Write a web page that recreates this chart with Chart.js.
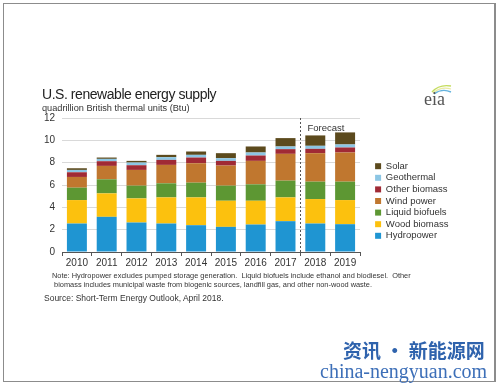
<!DOCTYPE html>
<html>
<head>
<meta charset="utf-8">
<script src="https://cdn.jsdelivr.net/npm/chart.js@4.4.1/dist/chart.umd.min.js"></script>
<style>
  body { margin: 0; background: #fff; }
  #wrap { position: relative; width: 500px; height: 388px; font-family: "Liberation Sans", Arial, sans-serif; color: #333; overflow: hidden; }
  #frame { position: absolute; left: 3px; top: 3px; width: 490px; height: 377px; border: 1px solid #8c8c8c; border-right-width: 2px; }
  canvas { position: absolute; left: 0; top: 0; }
  .txt { position: absolute; white-space: pre; }
  #title { left: 42px; top: 87px; font-size: 14px; line-height: 14px; letter-spacing: -0.45px; color: #222; }
  #subtitle { left: 42px; top: 103px; font-size: 9.2px; line-height: 10px; color: #333; }
  #note { left: 52px; top: 271px; font-size: 7.4px; line-height: 9px; color: #333; }
  #source { left: 44px; top: 293px; font-size: 8.5px; line-height: 10px; color: #333; }
  #wm1 { left: 343px; top: 340px; font-family: "Noto Sans CJK SC", sans-serif; font-weight: bold; font-size: 19px; line-height: 19px; color: #2f63ad; }
  #wm2 { left: 320px; top: 361px; font-family: "Liberation Serif", serif; font-size: 20px; line-height: 20px; color: #3d6fb8; }
  #logo { position: absolute; left: 420px; top: 78px; }
</style>
</head>
<body>
<div id="wrap">
  <div id="frame"></div>
  <canvas id="supplyChart" width="500" height="388"></canvas>
  <div class="txt" id="title">U.S. renewable energy supply</div>
  <div class="txt" id="subtitle">quadrillion British thermal units (Btu)</div>
  <svg id="logo" width="40" height="32" viewBox="0 0 40 32">
    <path d="M12 14 Q19 6 31 8" stroke="#b5d334" stroke-width="1.4" fill="none" opacity="0.8"/>
    <path d="M13 15 Q21 8 31 11" stroke="#e3e58a" stroke-width="1.2" fill="none" opacity="0.8"/>
    <path d="M14 16 Q22 10 31 14" stroke="#3ea0d6" stroke-width="1.4" fill="none" opacity="0.8"/>
    <text x="4" y="27" font-family="Liberation Serif, serif" font-size="18" fill="#555">eia</text>
  </svg>
  <div class="txt" id="note">Note: Hydropower excludes pumped storage generation.  Liquid biofuels include ethanol and biodiesel.  Other
 biomass includes municipal waste from biogenic sources, landfill gas, and other non-wood waste.</div>
  <div class="txt" id="source">Source: Short-Term Energy Outlook, April 2018.</div>
  <div class="txt" id="wm1">资讯 · 新能源网</div>
  <div class="txt" id="wm2">china-nengyuan.com</div>
</div>
<script>
// quadrillion Btu (2018-2019 are forecast)
const years = ['2010', '2011', '2012', '2013', '2014', '2015', '2016', '2017', '2018', '2019'];
const hydropower = [2.55, 3.15, 2.64, 2.55, 2.40, 2.25, 2.46, 2.76, 2.55, 2.49];
const woodBiomass = [2.10, 2.10, 2.16, 2.34, 2.49, 2.34, 2.13, 2.13, 2.19, 2.16];
const liquidBiofuels = [1.11, 1.26, 1.14, 1.26, 1.32, 1.35, 1.47, 1.50, 1.56, 1.65];
const windPower = [0.96, 1.20, 1.41, 1.65, 1.74, 1.80, 2.10, 2.40, 2.55, 2.61];
const otherBiomass = [0.42, 0.42, 0.42, 0.45, 0.51, 0.42, 0.48, 0.42, 0.39, 0.45];
const geothermal = [0.21, 0.21, 0.24, 0.24, 0.24, 0.24, 0.27, 0.24, 0.27, 0.27];
const solar = [0.15, 0.12, 0.15, 0.21, 0.30, 0.45, 0.54, 0.75, 0.93, 1.08];
const yTicks = [0, 2, 4, 6, 8, 10, 12];
const forecastStart = 8; // index of 2018

const FONT = '"Liberation Sans", Arial, sans-serif';

// dashed divider + "Forecast" label
const forecastLine = {
  id: 'forecastLine',
  afterDatasetsDraw(chart) {
    const { ctx, chartArea, scales } = chart;
    const x = scales.x;
    const xPos = Math.round((x.getPixelForValue(forecastStart - 1) + x.getPixelForValue(forecastStart)) / 2) + 0.5;
    ctx.save();
    ctx.strokeStyle = '#555';
    ctx.lineWidth = 1;
    ctx.setLineDash([2, 2]);
    ctx.beginPath();
    ctx.moveTo(xPos, chartArea.top);
    ctx.lineTo(xPos, chartArea.bottom);
    ctx.stroke();
    ctx.setLineDash([]);
    ctx.fillStyle = '#333';
    ctx.font = '9.5px ' + FONT;
    ctx.textBaseline = 'alphabetic';
    ctx.fillText('Forecast', xPos + 7, chartArea.top + 13);
    ctx.restore();
  }
};

// keep the legend block to the right of the plot with a small gap
const legendPlacement = {
  id: 'legendPlacement',
  beforeLayout(chart) {
    const legend = chart.legend;
    if (legend && !legend._fixedWidth) {
      const fit = legend.fit;
      legend.fit = function () { fit.call(this); this.width = 140; };
      legend._fixedWidth = true;
    }
  },
  afterLayout(chart) {
    chart.legend.left += 13;
  }
};

new Chart(document.getElementById('supplyChart'), {
  type: 'bar',
  data: {
    labels: years,
    datasets: [
      { label: 'Hydropower', data: hydropower, backgroundColor: '#1f95d2' },
      { label: 'Wood biomass', data: woodBiomass, backgroundColor: '#fcc10e' },
      { label: 'Liquid biofuels', data: liquidBiofuels, backgroundColor: '#5d9733' },
      { label: 'Wind power', data: windPower, backgroundColor: '#c0772f' },
      { label: 'Other biomass', data: otherBiomass, backgroundColor: '#a02a35' },
      { label: 'Geothermal', data: geothermal, backgroundColor: '#8cc6e4' },
      { label: 'Solar', data: solar, backgroundColor: '#5c4a1d' }
    ]
  },
  options: {
    responsive: false,
    devicePixelRatio: 1,
    animation: false,
    datasets: { bar: { categoryPercentage: 1, barPercentage: 0.67, borderWidth: 0 } },
    layout: { padding: { top: 118, left: 42, right: 0, bottom: 116 } },
    scales: {
      x: {
        stacked: true,
        grid: { drawOnChartArea: false, drawTicks: true, tickLength: 4, color: '#555', offset: true },
        border: { color: '#555' },
        ticks: { color: '#333', font: { family: FONT, size: 10 }, padding: 1, maxRotation: 0 },
        afterFit(scale) { scale.height = 20; }
      },
      y: {
        stacked: true,
        min: 0,
        max: 12,
        grid: { color: '#d9d9d9', drawTicks: false },
        border: { display: false },
        afterBuildTicks(scale) { scale.ticks = yTicks.map(v => ({ value: v })); },
        ticks: { color: '#333', font: { family: FONT, size: 10 }, padding: 7 },
        afterFit(scale) { scale.width = 20; }
      }
    },
    plugins: {
      tooltip: { enabled: false },
      legend: {
        position: 'right',
        reverse: true,
        title: { display: true, text: '', font: { size: 10 }, padding: 0 },
        labels: {
          boxWidth: 6,
          boxHeight: 6,
          padding: 2.1,
          color: '#333',
          font: { family: FONT, size: 9.5 }
        }
      }
    }
  },
  plugins: [forecastLine, legendPlacement]
});
</script>
</body>
</html>
